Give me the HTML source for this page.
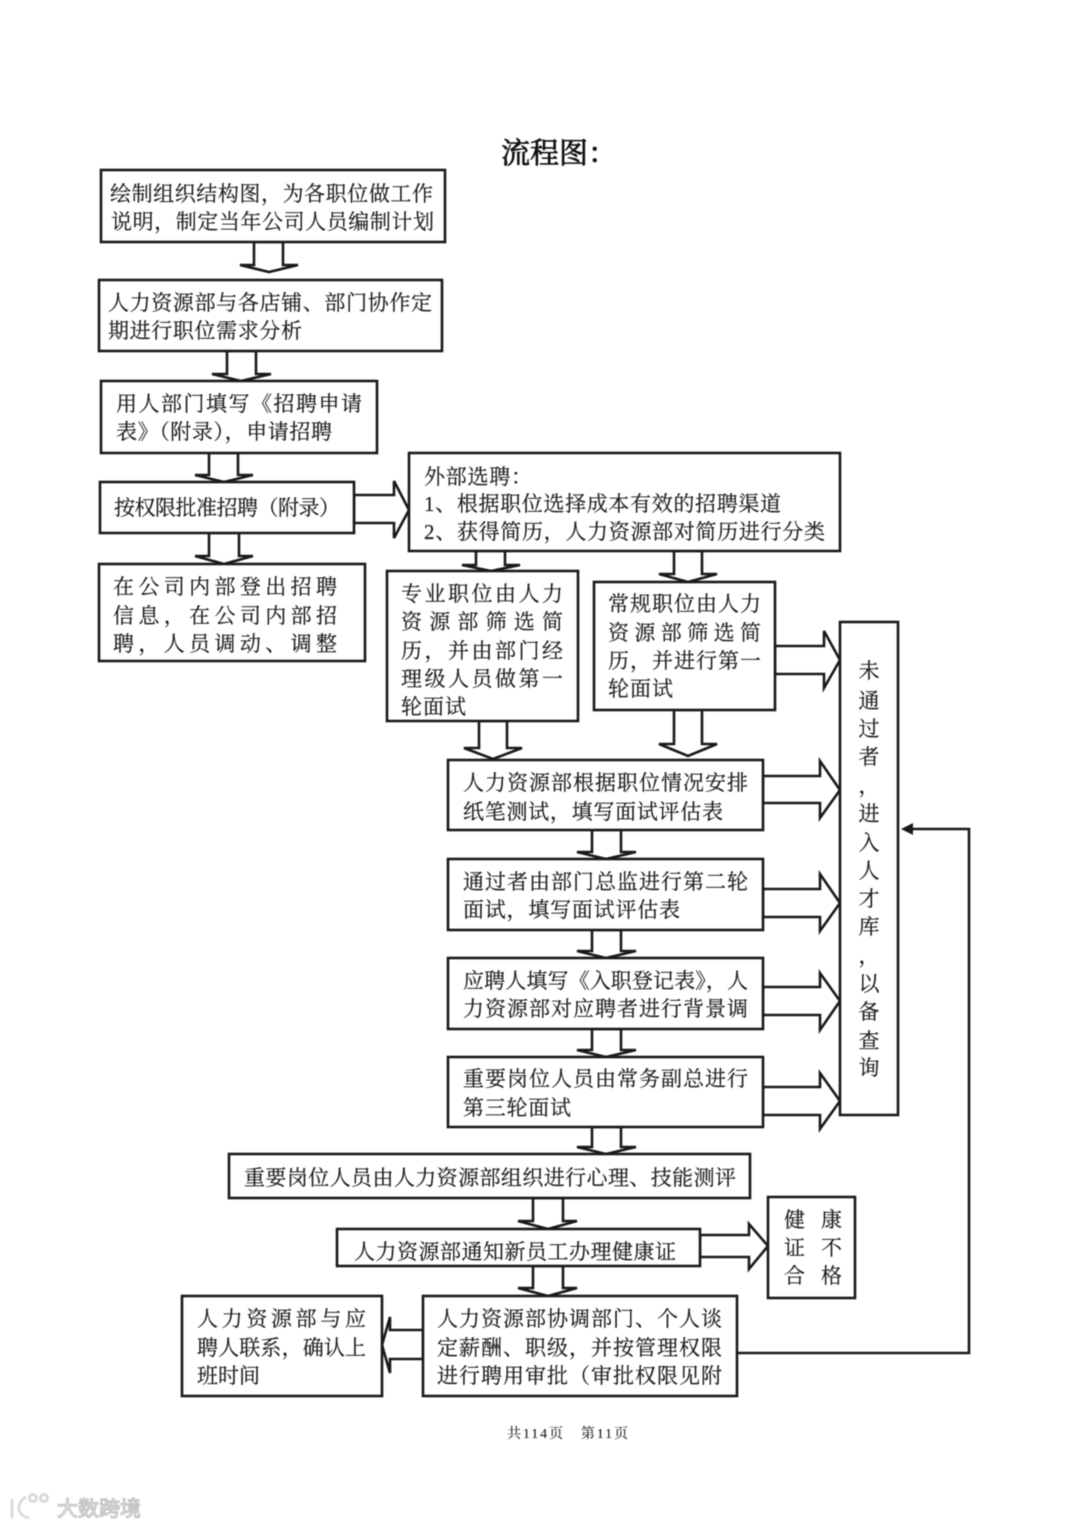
<!DOCTYPE html>
<html lang="zh">
<head>
<meta charset="utf-8">
<title>流程图</title>
<style>
html,body{margin:0;padding:0;background:#fff;}
body{width:1080px;height:1527px;overflow:hidden;}
svg{display:block;filter:blur(0.45px);}
text{font-family:"Liberation Serif","Noto Serif CJK SC",serif;font-size:21px;fill:#1c1c1c;stroke:#1c1c1c;stroke-width:.2;}
.b{fill:#fff;stroke:#1a1a1a;stroke-width:2.6;}
.a{fill:#fff;stroke:#1a1a1a;stroke-width:2.6;stroke-linejoin:miter;}
</style>
</head>
<body>
<svg width="1080" height="1527" viewBox="0 0 1080 1527" xmlns="http://www.w3.org/2000/svg">
<rect width="1080" height="1527" fill="#fff"/>

<text x="501" y="163" style="font-size:29px;stroke-width:.7;fill:#111;stroke:#111">流程图：</text>

<!-- down arrows -->
<polygon class="a" points="254,242 254,265 240,265 269,272 298,265 283,265 283,242"/>
<polygon class="a" points="227,351 227,374 212,374 241,381 271,374 256,374 256,351"/>
<polygon class="a" points="209,453 209,475 195,475 224,482 253,475 238,475 238,453"/>
<polygon class="a" points="209,533 209,556 195,556 224,564 253,556 239,556 239,533"/>
<polygon class="a" points="476,551 476,565 462,565 491,571 520,565 505,565 505,551"/>
<polygon class="a" points="674,551 674,574 659,574 688,582 717,574 702,574 702,551"/>
<polygon class="a" points="479,721 479,748 464,748 493,759 522,748 507,748 507,721"/>
<polygon class="a" points="674,710 674,744 659,744 688,756 717,744 702,744 702,710"/>
<polygon class="a" points="592,830 592,852 577,852 606,859 636,852 621,852 621,830"/>
<polygon class="a" points="592,930 592,951 577,951 606,958 636,951 621,951 621,930"/>
<polygon class="a" points="592,1029 592,1050 577,1050 606,1057 636,1050 621,1050 621,1029"/>
<polygon class="a" points="592,1127 592,1147 577,1147 606,1154 636,1147 621,1147 621,1127"/>
<polygon class="a" points="533,1198 533,1221 518,1221 548,1229 577,1221 563,1221 563,1198"/>
<polygon class="a" points="533,1266 533,1288 518,1288 548,1296 577,1288 563,1288 563,1266"/>

<!-- right arrows -->
<polygon class="a" points="354,495 394,495 394,481 409,510 394,538 394,523 354,523"/>
<polygon class="a" points="775,646 824,646 824,631 840,660 824,688 824,674 775,674"/>
<polygon class="a" points="763,776 820,776 820,761 840,790 820,818 820,803 763,803"/>
<polygon class="a" points="763,889 820,889 820,874 840,903 820,931 820,917 763,917"/>
<polygon class="a" points="763,987 820,987 820,973 840,1001 820,1030 820,1015 763,1015"/>
<polygon class="a" points="763,1087 820,1087 820,1073 840,1101 820,1129 820,1115 763,1115"/>
<polygon class="a" points="700,1235 749,1235 749,1224 768,1246 749,1269 749,1257 700,1257"/>
<!-- left arrow -->
<polygon class="a" points="423,1330 390,1330 390,1317 382,1345 390,1373 390,1359 423,1359"/>

<!-- feedback connector -->
<polyline points="737,1353 969,1353 969,829 910,829" fill="none" stroke="#1a1a1a" stroke-width="2.6"/>
<polygon points="901,829 913,823 913,835" fill="#1a1a1a"/>

<!-- boxes -->
<rect class="b" x="101" y="170" width="344" height="72"/>
<rect class="b" x="99" y="280" width="343" height="71"/>
<rect class="b" x="101" y="381" width="276" height="72"/>
<rect class="b" x="100" y="482" width="254" height="51"/>
<rect class="b" x="99" y="564" width="266" height="97"/>
<rect class="b" x="409" y="453" width="431" height="98"/>
<rect class="b" x="387" y="571" width="191" height="150"/>
<rect class="b" x="594" y="582" width="181" height="128"/>
<rect class="b" x="448" y="760" width="315" height="70"/>
<rect class="b" x="448" y="859" width="315" height="71"/>
<rect class="b" x="448" y="958" width="315" height="71"/>
<rect class="b" x="448" y="1057" width="315" height="70"/>
<rect class="b" x="840" y="622" width="58" height="493"/>
<rect class="b" x="229" y="1154" width="521" height="44"/>
<rect class="b" x="337" y="1229" width="363" height="37"/>
<rect class="b" x="768" y="1197" width="87" height="101"/>
<rect class="b" x="182" y="1296" width="200" height="100"/>
<rect class="b" x="423" y="1296" width="314" height="100"/>

<!-- box text -->
<text x="110" y="201" textLength="323" lengthAdjust="spacing">绘制组织结构图，为各职位做工作</text>
<text x="111" y="229" textLength="323" lengthAdjust="spacing">说明，制定当年公司人员编制计划</text>

<text x="108" y="310" textLength="324" lengthAdjust="spacing">人力资源部与各店铺、部门协作定</text>
<text x="108" y="338" textLength="194" lengthAdjust="spacing">期进行职位需求分析</text>

<text x="116" y="411" textLength="246" lengthAdjust="spacing">用人部门填写《招聘申请</text>
<text x="116" y="439" textLength="216" lengthAdjust="spacing">表》（附录），申请招聘</text>

<text x="114" y="515" textLength="226" lengthAdjust="spacing">按权限批准招聘（附录）</text>

<text x="113" y="594" textLength="224" lengthAdjust="spacing">在公司内部登出招聘</text>
<text x="113" y="623" textLength="224" lengthAdjust="spacing">信息，在公司内部招</text>
<text x="113" y="651" textLength="224" lengthAdjust="spacing">聘，人员调动、调整</text>

<text x="424" y="484" textLength="108" lengthAdjust="spacing">外部选聘：</text>
<text x="424" y="511" textLength="357" lengthAdjust="spacing">1、根据职位选择成本有效的招聘渠道</text>
<text x="424" y="539" textLength="401" lengthAdjust="spacing">2、获得简历，人力资源部对简历进行分类</text>

<text x="401" y="601" textLength="162" lengthAdjust="spacing">专业职位由人力</text>
<text x="401" y="629" textLength="162" lengthAdjust="spacing">资源部筛选简</text>
<text x="401" y="658" textLength="162" lengthAdjust="spacing">历，并由部门经</text>
<text x="401" y="686" textLength="162" lengthAdjust="spacing">理级人员做第一</text>
<text x="401" y="714" textLength="65" lengthAdjust="spacing">轮面试</text>

<text x="608" y="611" textLength="153" lengthAdjust="spacing">常规职位由人力</text>
<text x="608" y="640" textLength="153" lengthAdjust="spacing">资源部筛选简</text>
<text x="608" y="668" textLength="153" lengthAdjust="spacing">历，并进行第一</text>
<text x="608" y="696" textLength="65" lengthAdjust="spacing">轮面试</text>

<text x="463" y="790" textLength="285" lengthAdjust="spacing">人力资源部根据职位情况安排</text>
<text x="463" y="819" textLength="260" lengthAdjust="spacing">纸笔测试，填写面试评估表</text>

<text x="463" y="889" textLength="285" lengthAdjust="spacing">通过者由部门总监进行第二轮</text>
<text x="463" y="917" textLength="217" lengthAdjust="spacing">面试，填写面试评估表</text>

<text x="463" y="988" textLength="285" lengthAdjust="spacing">应聘人填写《入职登记表》，人</text>
<text x="463" y="1016" textLength="285" lengthAdjust="spacing">力资源部对应聘者进行背景调</text>

<text x="463" y="1086" textLength="285" lengthAdjust="spacing">重要岗位人员由常务副总进行</text>
<text x="463" y="1115" textLength="108" lengthAdjust="spacing">第三轮面试</text>

<text x="244" y="1185" textLength="492" lengthAdjust="spacing">重要岗位人员由人力资源部组织进行心理、技能测评</text>
<text x="354" y="1259" textLength="322" lengthAdjust="spacing">人力资源部通知新员工办理健康证</text>

<text x="784" y="1227">健</text><text x="821" y="1227">康</text>
<text x="784" y="1255">证</text><text x="821" y="1255">不</text>
<text x="784" y="1283">合</text><text x="821" y="1283">格</text>

<text x="197" y="1326" textLength="169" lengthAdjust="spacing">人力资源部与应</text>
<text x="197" y="1355" textLength="169" lengthAdjust="spacing">聘人联系，确认上</text>
<text x="197" y="1383" textLength="63" lengthAdjust="spacing">班时间</text>

<text x="437" y="1326" textLength="285" lengthAdjust="spacing">人力资源部协调部门、个人谈</text>
<text x="437" y="1355" textLength="285" lengthAdjust="spacing">定薪酬、职级，并按管理权限</text>
<text x="437" y="1383" textLength="285" lengthAdjust="spacing">进行聘用审批（审批权限见附</text>

<!-- vertical text -->
<g text-anchor="middle">
<text x="869" y="678">未</text>
<text x="869" y="708">通</text>
<text x="869" y="736">过</text>
<text x="869" y="764">者</text>
<text x="869" y="793">，</text>
<text x="869" y="821">进</text>
<text x="869" y="850">入</text>
<text x="869" y="878">人</text>
<text x="869" y="906">才</text>
<text x="869" y="934">库</text>
<text x="869" y="963">，</text>
<text x="869" y="991">以</text>
<text x="869" y="1019">备</text>
<text x="869" y="1048">查</text>
<text x="869" y="1075">询</text>
</g>

<!-- footer -->
<text x="507" y="1438" style="font-size:14px;stroke-width:.1" textLength="121" lengthAdjust="spacing">共114页　第11页</text>

<!-- watermark -->
<g fill="none" stroke="#d0d0d0" stroke-width="2.2" style="filter:blur(.6px)">
<path d="M12 1499 L12 1518 M26 1497 C17 1502 15 1515 29 1518"/>
<circle cx="33" cy="1498" r="3.6"/>
<circle cx="44" cy="1498" r="3.6"/>
</g>
<text x="57" y="1516" style="font-size:21px;fill:#fff;stroke:#c4c4c4;stroke-width:1.2;font-family:'Liberation Sans','Noto Sans CJK SC',sans-serif" textLength="84" lengthAdjust="spacing">大数跨境</text>
</svg>
</body>
</html>
